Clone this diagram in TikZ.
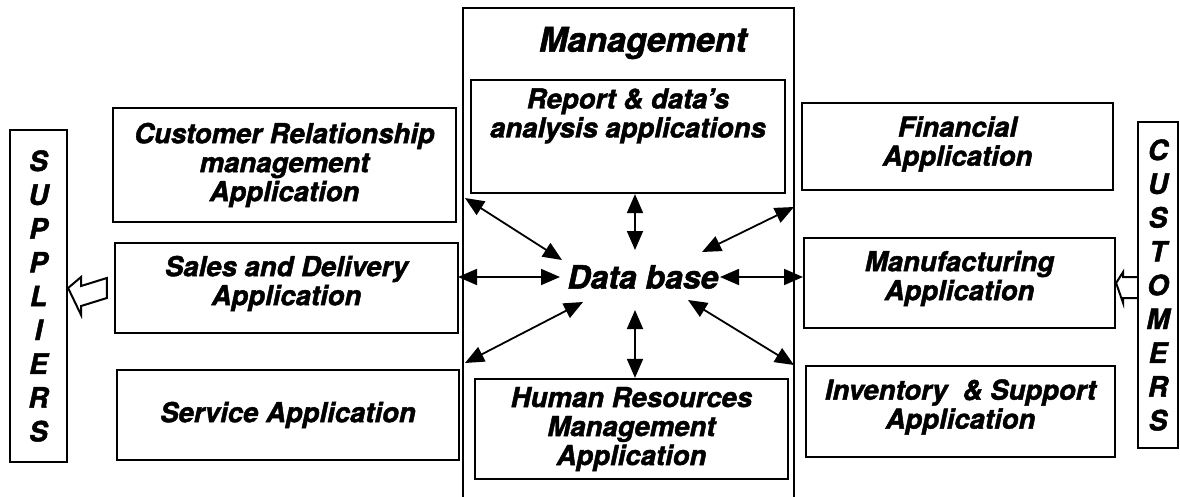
\documentclass[tikz,border=0pt]{standalone}
\usepackage{fontspec}
\setmainfont{TeX Gyre Heros}[BoldItalicFeatures={FakeBold=1.6}]
\usetikzlibrary{arrows.meta, calc}

\tikzset{
  appbox/.style={draw, line width=2.2pt, align=center, inner sep=0pt,
    font=\bfseries\itshape\fontsize{27.5}{29}\selectfont},
  sidebox/.style={draw, line width=2.2pt, align=center, inner sep=0pt,
    font=\bfseries\itshape\fontsize{28}{33.8}\selectfont},
  link/.style={{Triangle[length=19pt,width=16pt]}-{Triangle[length=19pt,width=16pt]}, line width=1.8pt},
  hollow/.style={draw, line width=2pt, fill=white, line join=miter}
}

\begin{document}
\begin{tikzpicture}[x=1pt, y=-1pt]
  \useasboundingbox[fill=white] (0,0) rectangle (1180,497);

  % management frame, open at the bottom
  \draw[line width=2.2pt] (463,505) -- (463,8) -- (794,8) -- (794,505);
  \node[font=\bfseries\itshape\fontsize{34}{40}\selectfont] (mgmt) at (643,43) {Management};

  \node[appbox, minimum width=314pt, minimum height=113pt] (report) at (628,136.5) {};
  \node[font=\bfseries\itshape\fontsize{27.5}{29}\selectfont, align=center, anchor=north] (reporttxt)
    at ([yshift=-6pt]report.north) {Report \& data's\\analysis applications};
  \node[appbox, minimum width=313pt, minimum height=100pt] (hr) at (631.5,429) {Human Resources\\Management\\Application};

  \node[font=\bfseries\itshape\fontsize{32}{38}\selectfont, inner sep=0pt] (db) at (643,277) {Data base};

  % left side
  \node[appbox, minimum width=343pt, minimum height=114pt] (crm) at (284.5,165) {Customer Relationship\\management\\Application};
  \node[appbox, minimum width=343pt, minimum height=90pt] (sales) at (286.5,288) {Sales and Delivery\\Application\\[-14pt]};
  \node[appbox, minimum width=342pt, minimum height=90pt] (service) at (288,415) {Service Application};
  \node[sidebox, minimum width=57pt, minimum height=332pt] (suppliers) at (38.5,296) {S\\U\\P\\P\\L\\I\\E\\R\\S};

  % right side
  \node[appbox, minimum width=311pt, minimum height=87pt] (fin) at (957.5,146.5) {Financial\\Application\\[-18pt]};
  \node[appbox, minimum width=311pt, minimum height=90pt] (manuf) at (959.5,283) {Manufacturing\\Application\\[-14pt]};
  \node[appbox, minimum width=309pt, minimum height=91pt] (inv) at (960.5,411.5) {Inventory~ \& Support\\Application\\[-14pt]};
  \node[sidebox, minimum width=40pt, minimum height=326pt] (customers) at (1158,285) {C\\U\\S\\T\\O\\M\\E\\R\\S};

  % ends of the links
  \coordinate (crmend) at (465,198);
  \coordinate (salesend) at (458,277);
  \coordinate (serviceend) at (465,363);
  \coordinate (finend) at (794,207);
  \coordinate (manufend) at (803,277);
  \coordinate (invend) at (794,365);
  \coordinate (dbnw) at (562,260);
  \coordinate (dbw) at (560,277);
  \coordinate (dbsw) at (583,302);
  \coordinate (dbn) at (635,250);
  \coordinate (dbs) at (635,310);
  \coordinate (dbne) at (702,252);
  \coordinate (dbe) at (720,277);
  \coordinate (dbse) at (688,300);

  \draw[link] (crmend) -- (dbnw);
  \draw[link] (salesend) -- (dbw);
  \draw[link] (serviceend) -- (dbsw);
  \draw[link] (report.south -| dbn) -- (dbn);
  \draw[link] (dbs) -- (hr.north -| dbs);
  \draw[link] (finend) -- (dbne);
  \draw[link] (dbe) -- (manufend);
  \draw[link] (dbse) -- (invend);

  % hollow arrows to the outside partners
  \draw[hollow] ($(sales.west)+(-7,-10)$) -- ($(suppliers.east)+(13,-10)$) -- ($(suppliers.east)+(13,-19)$)
    -- (suppliers.east |- sales.west) -- ($(suppliers.east)+(13,19)$) -- ($(suppliers.east)+(13,10)$)
    -- ($(sales.west)+(-7,10)$) -- cycle;
  \draw[hollow] ($(customers.west |- manuf.east)+(0,-6)$) -- ($(manuf.east)+(7,-6)$) -- ($(manuf.east)+(7,-11)$)
    -- (manuf.east) -- ($(manuf.east)+(7,20)$) -- ($(manuf.east)+(7,15)$) -- ($(customers.west |- manuf.east)+(0,15)$);
\end{tikzpicture}
\end{document}
